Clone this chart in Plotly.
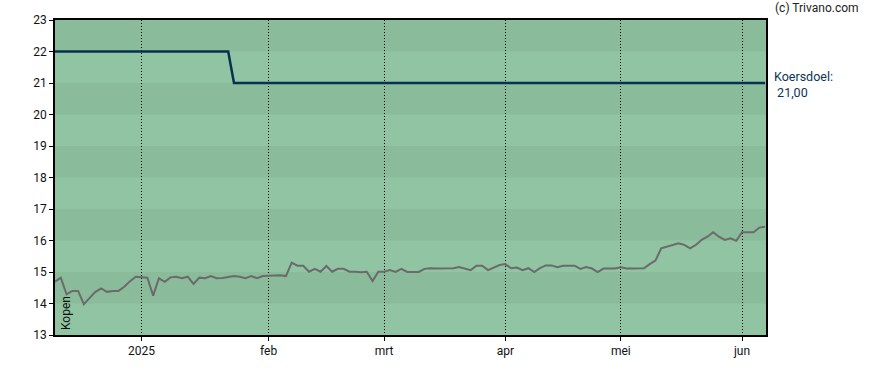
import pandas as pd
import plotly.graph_objects as go

# Trading days (Euronext) from 9 Dec 2024 to 6 Jun 2025
holidays = ["2024-12-25", "2024-12-26", "2025-01-01", "2025-04-18",
            "2025-04-21", "2025-05-01"]
dates = [d.strftime("%Y-%m-%d") for d in
         pd.bdate_range("2024-12-09", "2025-06-06", freq="C", holidays=holidays)]

price = [14.69, 14.82, 14.29, 14.40, 14.40, 13.98, 14.18, 14.37, 14.48, 14.37,
         14.40, 14.40, 14.53, 14.71, 14.85, 14.83, 14.82, 14.25, 14.80, 14.69,
         14.83, 14.85, 14.80, 14.85, 14.62, 14.82, 14.80, 14.87, 14.80, 14.81,
         14.83, 14.87, 14.85, 14.80, 14.87, 14.80, 14.87, 14.88, 14.90, 14.90,
         14.87, 15.30, 15.20, 15.20, 15.01, 15.10, 15.01, 15.19, 15.01, 15.10,
         15.10, 15.01, 15.01, 14.99, 15.01, 14.71, 15.01, 15.01, 15.06, 15.00,
         15.10, 15.00, 15.00, 15.00, 15.10, 15.12, 15.11, 15.12, 15.11, 15.12,
         15.16, 15.11, 15.06, 15.20, 15.20, 15.06, 15.13, 15.22, 15.25, 15.12,
         15.14, 15.06, 15.12, 15.00, 15.12, 15.21, 15.21, 15.15, 15.20, 15.20,
         15.20, 15.10, 15.16, 15.11, 15.00, 15.11, 15.11, 15.11, 15.15, 15.11,
         15.11, 15.11, 15.12, 15.25, 15.36, 15.75, 15.80, 15.86, 15.91, 15.86,
         15.75, 15.86, 16.02, 16.12, 16.26, 16.12, 16.02, 16.07, 15.99, 16.26,
         16.26, 16.26, 16.41, 16.44]

target_dates = ["2024-12-09", "2025-01-23", "2025-01-24", "2025-06-06"]
target_values = [22.0, 22.0, 21.0, 21.0]

tick_dates = ["2025-01-02", "2025-02-03", "2025-03-03", "2025-04-01",
              "2025-05-02", "2025-06-02"]
tick_labels = ["2025", "feb", "mrt", "apr", "mei", "jun"]

y_ticks = list(range(13, 24))

dark_band = "#8abb9b"
light_band = "#91c4a3"

fig = go.Figure()

# alternating horizontal bands
for lo in range(13, 23):
    fig.add_shape(type="rect", xref="paper", yref="y", x0=0, x1=1, y0=lo, y1=lo + 1,
                  fillcolor=light_band if (lo - 13) % 2 == 0 else dark_band,
                  line=dict(width=0), layer="below")

fig.add_trace(go.Scatter(x=dates, y=price, mode="lines",
                         line=dict(color="#6b6b6b", width=2), hoverinfo="skip"))
fig.add_trace(go.Scatter(x=target_dates, y=target_values, mode="lines",
                         line=dict(color="#08304f", width=2.5), hoverinfo="skip"))

fig.update_layout(
    width=888, height=370,
    margin=dict(l=55, r=122, t=20, b=35),
    paper_bgcolor="white", plot_bgcolor=light_band,
    showlegend=False,
    font=dict(family="Roboto", size=12, color="#111111"),
    xaxis=dict(type="category", categoryorder="array", categoryarray=dates,
               range=[0, len(dates) - 1 + 0.15],
               tickvals=tick_dates, ticktext=tick_labels,
               showgrid=True, gridcolor="black", griddash="1px,2px", gridwidth=1,
               ticks="outside", ticklen=4, tickcolor="black",
               showline=True, linecolor="black", linewidth=1.5, mirror=True,
               zeroline=False, fixedrange=True, automargin=False),
    yaxis=dict(range=[13, 23], tickvals=y_ticks, ticks="outside", ticklen=4,
               tickcolor="black", showgrid=False, zeroline=False,
               showline=True, linecolor="black", linewidth=1.5, mirror=True,
               fixedrange=True, automargin=False),
)

fig.add_annotation(text="(c) Trivano.com", xref="paper", yref="paper",
                   x=1, y=1, xanchor="left", yanchor="bottom", xshift=7, yshift=3,
                   showarrow=False, font=dict(size=12, color="#222222"))
fig.add_annotation(text="Koersdoel:<br> 21,00", xref="paper", yref="y",
                   x=1, y=21, xanchor="left", yanchor="middle", xshift=6, yshift=-1,
                   align="left", showarrow=False,
                   font=dict(size=12.5, color="#0b3556"))
fig.add_annotation(text="Kopen", xref="paper", yref="paper", x=0, y=0,
                   xanchor="left", yanchor="bottom", xshift=2, yshift=3,
                   textangle=-90, showarrow=False,
                   font=dict(size=12, color="#111111"))

fig.write_html("out.html", config={"displayModeBar": False},
               post_script="document.body.style.margin='0';")
